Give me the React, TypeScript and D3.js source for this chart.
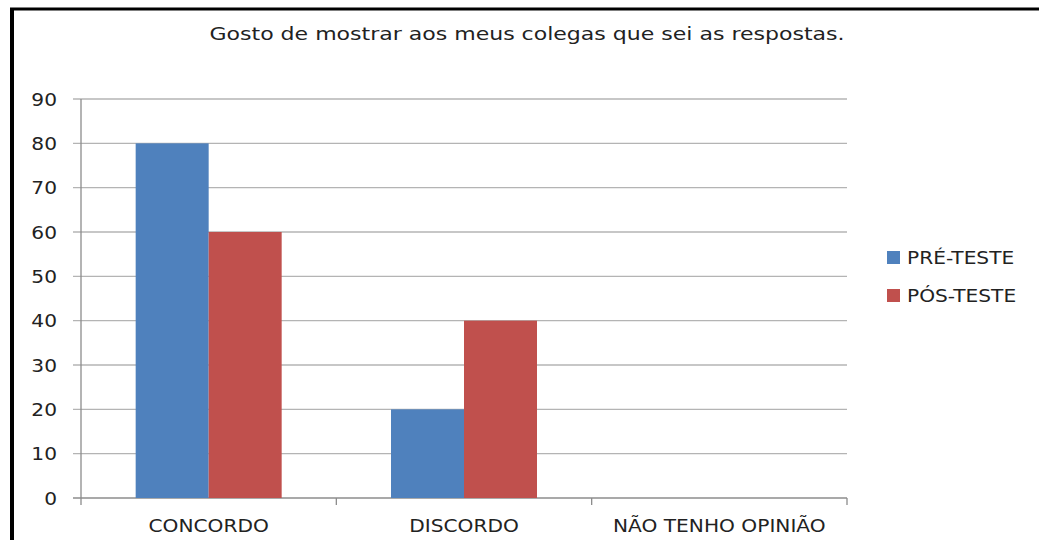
import React from "react";
import * as d3 from "d3";

const categories = ["CONCORDO", "DISCORDO", "NÃO TENHO OPINIÃO"];
const seriesNames = ["PRÉ-TESTE", "PÓS-TESTE"];
const preTeste = [80, 20, 0];
const posTeste = [60, 40, 0];
const yTicks = [0, 10, 20, 30, 40, 50, 60, 70, 80, 90];
const title = "Gosto de mostrar aos meus colegas que sei as respostas.";
const colors = ["#4F81BD", "#C0504D"];

export default function App() {
  const W = 1039, H = 540;
  const left = 81, right = 847, top = 99, bottom = 498;
  const x = d3.scaleBand().domain(categories).range([left, right]).paddingInner(0).paddingOuter(0);
  const y = d3.scaleLinear().domain([0, 90]).range([bottom, top]);
  const series = [preTeste, posTeste];
  const barW = 73;
  const font = "'DejaVu Sans', Verdana, sans-serif";
  const sx = 1.12;
  const boundaries = [left, ...categories.map((c) => (x(c) as number) + x.bandwidth())];
  return (
    <svg width={W} height={H} style={{ position: "absolute", left: 0, top: 0, background: "#fff" }}>
      <rect x={0} y={0} width={W} height={H} fill="#fff" />
      <line x1={10} y1={9} x2={W} y2={9} stroke="#000" strokeWidth={3} />
      <line x1={12} y1={8} x2={12} y2={H} stroke="#000" strokeWidth={4} />
      <text x={527} y={40} textAnchor="middle" fontFamily={font} fontSize={18} fill="#222" textLength={635} lengthAdjust="spacingAndGlyphs">{title}</text>
      {yTicks.map((t) => (
        <g key={t}>
          <line x1={73} x2={right} y1={y(t)} y2={y(t)} stroke={t === 0 ? "#8c8c8c" : "#b4b4b4"} strokeWidth={1.3} />
          <g transform={`translate(57,${y(t) + 6.5}) scale(${sx},1)`}>
            <text x={0} y={0} textAnchor="end" fontFamily={font} fontSize={18} fill="#222">{t}</text>
          </g>
        </g>
      ))}
      <line x1={left} x2={left} y1={top} y2={bottom} stroke="#8c8c8c" strokeWidth={1.3} />
      {boundaries.map((b, i) => (
        <line key={i} x1={b} x2={b} y1={bottom} y2={bottom + 7} stroke="#8c8c8c" strokeWidth={1.3} />
      ))}
      {categories.map((c, ci) => {
        const cx = (x(c) as number) + x.bandwidth() / 2;
        return (
          <g key={c}>
            {series.map((s, si) => (
              s[ci] > 0 ? (
                <rect key={si} x={cx - barW + si * barW} y={y(s[ci])} width={barW} height={bottom - y(s[ci])} fill={colors[si]} />
              ) : null
            ))}
            <g transform={`translate(${cx},532) scale(${sx},1)`}>
              <text x={0} y={0} textAnchor="middle" fontFamily={font} fontSize={18} fill="#222">{c}</text>
            </g>
          </g>
        );
      })}
      {seriesNames.map((n, i) => (
        <g key={n}>
          <rect x={887} y={251 + i * 38} width={13} height={13} fill={colors[i]} />
          <g transform={`translate(907,${264 + i * 38}) scale(${sx},1)`}>
            <text x={0} y={0} fontFamily={font} fontSize={18} fill="#222">{n}</text>
          </g>
        </g>
      ))}
    </svg>
  );
}
